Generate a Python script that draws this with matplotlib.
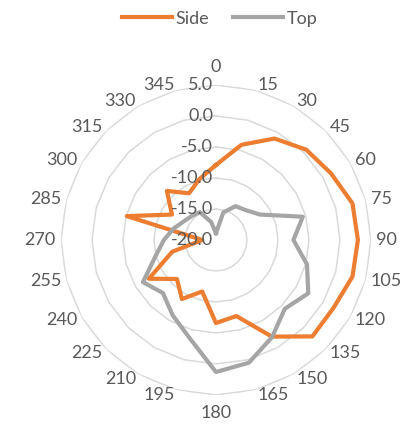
import numpy as np
import matplotlib
matplotlib.use("Agg")
import matplotlib.pyplot as plt

plt.rcParams['font.family'] = ['Lato', 'DejaVu Sans']

# angle categories (degrees) and the two measured patterns
angles = [0, 15, 30, 45, 60, 75, 90, 105, 120, 135, 150, 165,
          180, 195, 210, 225, 240, 255, 270, 285, 300, 315, 330, 345]
side = [-7.9, -4.1, -1.1, 0.6, 1.45, 2.8, 2.9, 2.8, 1.9, 2.0, -2.0, -7.3,
        -6.6, -11.4, -9.0, -11.1, -7.5, -12.7, -17.8, -5.1, -11.8, -8.8, -11.3, -9.8]
top = [-18.9, -15.4, -13.7, -13.2, -11.8, -5.5, -7.5, -4.8, -2.8, -4.3, -1.9, 0.5,
       1.3, -3.6, -6.0, -7.9, -6.4, -9.9, -11.6, -12.9, -14.0, -14.5, -14.8, -17.0]
r_ticks = [-20, -15, -10, -5, 0, 5]

TEXT = '#595959'
GRID = '#D9D9D9'
FS = 13

fig = plt.figure(figsize=(4.03, 4.26), dpi=100)
ax = fig.add_axes([0.1514, 0.0728, 0.769, 0.7277], projection='polar')
ax.set_theta_zero_location('N')
ax.set_theta_direction(-1)
ax.set_ylim(r_ticks[0], r_ticks[-1])
ax.grid(False)
ax.spines['polar'].set_visible(False)
ax.set_xticks([])
ax.set_yticks([])

theta = np.deg2rad(angles)
theta_closed = np.append(theta, theta[0])

# polygon gridlines like a spreadsheet radar chart
for rv in r_ticks[1:]:
    ax.plot(theta_closed, [rv] * len(theta_closed), color=GRID, lw=1.1, zorder=1)

ax.plot(theta_closed, side + side[:1], color='#ED7D31', lw=3, label='Side', zorder=3)
ax.plot(theta_closed, top + top[:1], color='#A5A5A5', lw=3, label='Top', zorder=4)

# value labels along the 0 axis
for rv in r_ticks:
    ax.annotate(f'{rv:.1f}', xy=(0, rv), xytext=(-2, 0), textcoords='offset points',
                ha='right', va='center', fontsize=FS, color=TEXT, zorder=6,
                annotation_clip=False)

# category labels: anchored just outside the outer ring, text pushed sideways
r_lab = r_ticks[-1] + 0.85
for a, t in zip(angles, theta):
    s, c = np.sin(t), np.cos(t)
    if abs(s) < 1e-6:
        ha, va = 'center', ('bottom' if c > 0 else 'top')
        off = (0, 3.5 if c > 0 else -3.5)
    else:
        ha, va = ('left' if s > 0 else 'right'), 'center'
        off = (0, 0)
    ax.annotate(str(a), xy=(t, r_lab), xytext=off, textcoords='offset points',
                ha=ha, va=va, fontsize=FS, color=TEXT, annotation_clip=False)

fig.legend(loc='center', bbox_to_anchor=(0.545, 0.956), ncol=2, frameon=False,
           fontsize=FS, handlelength=2.8, handletextpad=0.2, columnspacing=1.3,
           labelcolor=TEXT)

fig.savefig('out.png', dpi=100)
